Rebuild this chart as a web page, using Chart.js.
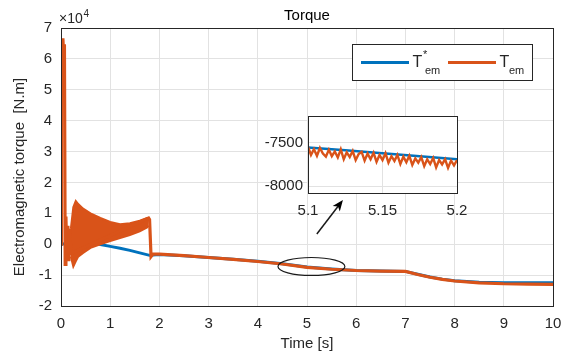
<!DOCTYPE html>
<html>
<head>
<meta charset="utf-8">
<title>Torque</title>
<script src="https://cdn.jsdelivr.net/npm/chart.js@4.4.1/dist/chart.umd.min.js"></script>
<style>
  html, body { margin: 0; padding: 0; background: #fff; }
  #wrap { position: relative; width: 569px; height: 356px; }
  #torque { position: absolute; left: 0; top: 0; }
  #zoom { position: absolute; left: 250px; top: 108px; }
</style>
</head>
<body>
<div id="wrap">
  <canvas id="torque" width="569" height="356"></canvas>
  <canvas id="zoom" width="225" height="115"></canvas>
</div>
<script>
// reference torque T*em (x10^4 N.m)
const refTime   = [0, 0.2, 0.4, 0.6, 0.8, 1.0, 1.2, 1.4, 1.6, 1.8, 2.0, 2.5, 3.0, 3.5, 4.0, 4.5, 5.0, 5.5, 6.0, 6.5, 7.0, 7.25, 7.5, 7.75, 8.0, 8.5, 9.0, 9.5, 10];
const refTorque = [0, 0.04, 0.05, 0.03, -0.01, -0.07, -0.13, -0.2, -0.28, -0.36, -0.33, -0.37, -0.43, -0.49, -0.55, -0.63, -0.74, -0.8, -0.85, -0.87, -0.88, -0.97, -1.06, -1.13, -1.18, -1.23, -1.25, -1.25, -1.25];

// measured torque Tem (x10^4 N.m)
const emTime   = [0, 0.004, 0.008, 0.012, 0.04, 0.045, 0.07, 0.085, 0.1, 0.12, 0.14, 0.16, 0.18, 0.2, 1.78, 1.8, 1.83, 1.87, 2.0, 2.5, 3.0, 3.5, 4.0, 4.5, 5.0, 5.5, 6.0, 6.5, 7.0, 7.25, 7.5, 7.75, 8.0, 8.5, 9.0, 9.5, 10];
const emTorque = [0, 2.35, 0.2, 6.62, 6.62, 6.42, 6.42, -0.65, 0.9, -0.5, 0.6, -0.55, 0.5, -0.3, 0.85, 0.8, -0.4, -0.32, -0.32, -0.37, -0.43, -0.49, -0.56, -0.64, -0.75, -0.81, -0.85, -0.87, -0.88, -0.98, -1.07, -1.14, -1.19, -1.25, -1.28, -1.29, -1.3];

// envelope of the oscillation during start-up
const bandTime  = [0.2, 0.25, 0.3, 0.35, 0.45, 0.6, 0.8, 1.0, 1.2, 1.4, 1.6, 1.75, 1.78];
const bandUpper = [0.5, 1.2, 1.4, 1.3, 1.15, 1.0, 0.85, 0.72, 0.65, 0.68, 0.76, 0.85, 0.85];
const bandLower = [-0.4, -0.72, -0.55, -0.4, -0.28, -0.12, 0.0, 0.1, 0.2, 0.3, 0.42, 0.54, 0.6];

// zoomed window 5.1 - 5.2 s (N.m)
const zoomRefTime = [5.1, 5.125, 5.15, 5.175, 5.2];
const zoomRef     = [-7555, -7585, -7620, -7655, -7690];
const zoomTime = [5.100, 5.102, 5.104, 5.106, 5.108, 5.110, 5.112, 5.114, 5.116, 5.118, 5.120, 5.122, 5.124, 5.126, 5.128, 5.130, 5.132,
                  5.134, 5.136, 5.138, 5.140, 5.142, 5.144, 5.146, 5.148, 5.150, 5.152, 5.154, 5.156, 5.158, 5.160, 5.162, 5.164, 5.166,
                  5.168, 5.170, 5.172, 5.174, 5.176, 5.178, 5.180, 5.182, 5.184, 5.186, 5.188, 5.190, 5.192, 5.194, 5.196, 5.198, 5.200];
const zoomEm   = [-7545, -7640, -7575, -7650, -7560, -7625, -7660, -7580, -7655, -7600, -7670, -7575, -7690, -7610, -7665, -7595, -7700,
                  -7630, -7605, -7705, -7625, -7690, -7615, -7720, -7640, -7700, -7620, -7730, -7655, -7710, -7640, -7745, -7660, -7725,
                  -7650, -7755, -7680, -7730, -7665, -7770, -7690, -7745, -7675, -7785, -7700, -7750, -7690, -7790, -7705, -7760, -7700];

const xTicks = [0, 1, 2, 3, 4, 5, 6, 7, 8, 9, 10];
const yTicks = [-2, -1, 0, 1, 2, 3, 4, 5, 6, 7];
const zoomXTicks = [5.1, 5.15, 5.2];
const zoomYTicks = [-8000, -7500];

const FONT = 'Helvetica, Arial, "Liberation Sans", sans-serif';
const INK = '#262626';
const BLUE = '#0072BD';
const ORANGE = '#D95319';
const GRID = '#e2e2e2';

Chart.defaults.font.family = FONT;
Chart.defaults.font.size = 15;
Chart.defaults.color = INK;

const pts = (xs, ys) => xs.map((x, i) => ({x: x, y: ys[i]}));

// fixed axis sizes, no extra room for overflowing tick labels
const fixX = h => s => { s.height = h; s.paddingLeft = 0; s.paddingRight = 0; };
const fixY = w => s => { s.width = w; s.paddingTop = 0; s.paddingBottom = 0; };

const frame = {
    id: 'frame',
    afterDraw(chart) {
        const a = chart.chartArea, c = chart.ctx;
        c.save();
        c.strokeStyle = INK;
        c.lineWidth = 1;
        c.strokeRect(Math.round(a.left) + 0.5, Math.round(a.top) + 0.5, Math.round(a.right - a.left), Math.round(a.bottom - a.top));
        c.restore();
    }
};

const whiteInside = {
    id: 'whiteInside',
    beforeDraw(chart) {
        const a = chart.chartArea, c = chart.ctx;
        c.save();
        c.fillStyle = '#fff';
        c.fillRect(a.left, a.top, a.right - a.left, a.bottom - a.top);
        c.restore();
    }
};

const decorations = {
    id: 'decorations',
    afterDatasetsDraw(chart) {
        const c = chart.ctx, xs = chart.scales.x, ys = chart.scales.y;
        // ellipse around the zoomed region
        const cx = xs.getPixelForValue(5.09), cy = ys.getPixelForValue(-0.72);
        const rx = xs.getPixelForValue(5.09 + 0.68) - cx, ry = cy - ys.getPixelForValue(-0.72 + 0.29);
        c.save();
        c.strokeStyle = '#1a1a1a';
        c.lineWidth = 1.2;
        c.beginPath();
        c.ellipse(cx, cy, rx, ry, 0, 0, Math.PI * 2);
        c.stroke();
        // arrow towards the inset
        const x0 = xs.getPixelForValue(5.2), y0 = ys.getPixelForValue(0.33);
        const x1 = xs.getPixelForValue(5.73), y1 = ys.getPixelForValue(1.43);
        const ang = Math.atan2(y1 - y0, x1 - x0);
        c.lineWidth = 1.5;
        c.beginPath();
        c.moveTo(x0, y0);
        c.lineTo(x1 - 6 * Math.cos(ang), y1 - 6 * Math.sin(ang));
        c.stroke();
        c.fillStyle = '#000';
        c.beginPath();
        c.moveTo(x1, y1);
        c.lineTo(x1 - 11 * Math.cos(ang) + 4.5 * Math.sin(ang), y1 - 11 * Math.sin(ang) - 4.5 * Math.cos(ang));
        c.lineTo(x1 - 8 * Math.cos(ang), y1 - 8 * Math.sin(ang));
        c.lineTo(x1 - 11 * Math.cos(ang) - 4.5 * Math.sin(ang), y1 - 11 * Math.sin(ang) + 4.5 * Math.cos(ang));
        c.closePath();
        c.fill();
        c.restore();
    },
    afterDraw(chart) {
        const c = chart.ctx, a = chart.chartArea;
        const mid = (a.left + a.right) / 2;
        c.save();
        // title
        c.font = '15px ' + FONT;
        c.textAlign = 'center';
        c.textBaseline = 'alphabetic';
        c.fillStyle = '#000';
        c.fillText('Torque', mid, 19.5);
        // axis labels
        c.fillStyle = INK;
        c.textBaseline = 'middle';
        c.fillText('Time [s]', mid, 344);
        c.save();
        c.translate(20, 177);
        c.rotate(-Math.PI / 2);
        c.fillText('Electromagnetic torque  [N.m]', 0, 0);
        c.restore();
        // exponent
        c.textAlign = 'left';
        c.textBaseline = 'alphabetic';
        c.font = '14px ' + FONT;
        c.fillText('\u00d710', 59, 23);
        c.font = '10px ' + FONT;
        c.fillText('4', 83.5, 16.5);

        // legend
        c.fillStyle = '#fff';
        c.fillRect(352.5, 44.5, 180, 36);
        c.strokeStyle = INK;
        c.lineWidth = 1;
        c.strokeRect(352.5, 44.5, 180, 36);
        c.lineWidth = 3;
        c.strokeStyle = BLUE;
        c.beginPath(); c.moveTo(361, 62.5); c.lineTo(409, 62.5); c.stroke();
        c.strokeStyle = ORANGE;
        c.beginPath(); c.moveTo(448, 62.5); c.lineTo(496, 62.5); c.stroke();
        c.fillStyle = INK;
        c.font = '16px ' + FONT;
        c.fillText('T', 412.5, 67);
        c.fillText('T', 499.5, 67);
        c.font = '11px ' + FONT;
        c.fillText('*', 423, 58);
        c.fillText('em', 425, 74);
        c.fillText('em', 509, 74);
        c.restore();
    }
};

const gridOpts = {color: GRID, drawTicks: false, lineWidth: 1};

new Chart(document.getElementById('torque'), {
    type: 'line',
    data: {
        datasets: [{
            label: 'Tem',
            data: pts(emTime, emTorque),
            borderColor: ORANGE,
            borderWidth: 3.2,
            order: 1
        }, {
            label: 'band top',
            data: pts(bandTime, bandUpper),
            borderColor: ORANGE,
            backgroundColor: ORANGE,
            borderWidth: 2,
            fill: '+1',
            order: 2
        }, {
            label: 'band bottom',
            data: pts(bandTime, bandLower),
            borderColor: ORANGE,
            borderWidth: 2,
            order: 3
        }, {
            label: 'T*em',
            data: pts(refTime, refTorque),
            borderColor: BLUE,
            borderWidth: 3,
            order: 4
        }]
    },
    options: {
        responsive: false,
        animation: false,
        parsing: false,
        elements: {point: {radius: 0}, line: {tension: 0, borderJoinStyle: 'miter'}},
        layout: {padding: {top: 28, right: 16, left: 0, bottom: 0}},
        plugins: {legend: {display: false}, tooltip: {enabled: false}},
        scales: {
            x: {
                type: 'linear', min: 0, max: 10,
                afterBuildTicks: s => { s.ticks = xTicks.map(v => ({value: v})); },
                afterFit: fixX(50),
                ticks: {padding: 9, maxRotation: 0, callback: v => String(v)},
                grid: gridOpts,
                border: {display: false}
            },
            y: {
                type: 'linear', min: -2, max: 7,
                afterBuildTicks: s => { s.ticks = yTicks.map(v => ({value: v})); },
                afterFit: fixY(61),
                ticks: {padding: 9, callback: v => String(v)},
                grid: gridOpts,
                border: {display: false}
            }
        }
    },
    plugins: [decorations, frame]
});

new Chart(document.getElementById('zoom'), {
    type: 'line',
    data: {
        datasets: [{
            label: 'Tem',
            data: pts(zoomTime, zoomEm),
            borderColor: ORANGE,
            borderWidth: 2.4,
            order: 1
        }, {
            label: 'T*em',
            data: pts(zoomRefTime, zoomRef),
            borderColor: BLUE,
            borderWidth: 2.5,
            order: 2
        }]
    },
    options: {
        responsive: false,
        animation: false,
        parsing: false,
        elements: {point: {radius: 0}, line: {tension: 0}},
        layout: {padding: {top: 8, right: 18, left: 0, bottom: 0}},
        plugins: {legend: {display: false}, tooltip: {enabled: false}},
        scales: {
            x: {
                type: 'linear', min: 5.1, max: 5.2,
                afterBuildTicks: s => { s.ticks = zoomXTicks.map(v => ({value: v})); },
                afterFit: fixX(30),
                ticks: {padding: 9, maxRotation: 0, callback: v => String(v)},
                grid: gridOpts,
                border: {display: false}
            },
            y: {
                type: 'linear', min: -8080, max: -7190,
                afterBuildTicks: s => { s.ticks = zoomYTicks.map(v => ({value: v})); },
                afterFit: fixY(58),
                ticks: {padding: 5, callback: v => String(v)},
                grid: gridOpts,
                border: {display: false}
            }
        }
    },
    plugins: [whiteInside, frame]
});
</script>
</body>
</html>
